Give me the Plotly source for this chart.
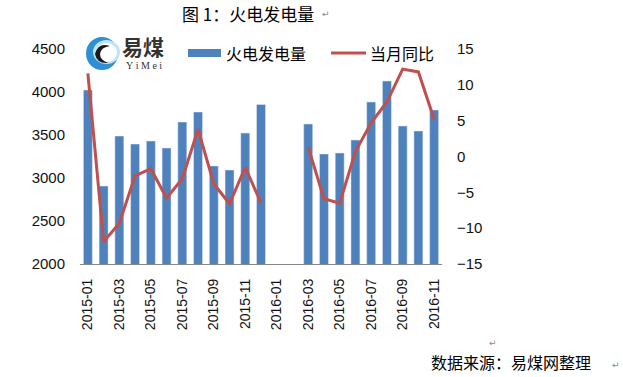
import plotly.graph_objects as go

months = ["2015-01", "2015-02", "2015-03", "2015-04", "2015-05", "2015-06",
          "2015-07", "2015-08", "2015-09", "2015-10", "2015-11", "2015-12",
          "2016-01", "2016-02", "2016-03", "2016-04", "2016-05", "2016-06",
          "2016-07", "2016-08", "2016-09", "2016-10", "2016-11"]
power = [4023, 2907, 3488, 3395, 3430, 3349, 3651, 3767, 3140, 3093, 3523, 3855,
         None, None, 3628, 3279, 3291, 3442, 3884, 4128, 3605, 3547, 3791]
yoy = [11.6, -11.9, -9.3, -2.7, -1.7, -5.8, -3.1, 3.8, -3.8, -6.6, -1.5, -6.5,
       None, None, 1.3, -5.9, -6.5, 0.7, 4.7, 7.6, 12.2, 11.8, 5.2]
tick_months = months[::2]
left_ticks = [2000, 2500, 3000, 3500, 4000, 4500]
right_ticks = [-15, -10, -5, 0, 5, 10, 15]

BAR = "#4F81BD"
LINE = "#C0504D"
NUM_FONT = "Liberation Sans, Arial, sans-serif"
CJK_FONT = "Noto Sans CJK SC, sans-serif"

fig = go.Figure()
fig.add_trace(go.Bar(x=months, y=power, name="火电发电量", marker_color=BAR,
                     showlegend=False))
fig.add_trace(go.Scatter(x=months, y=yoy, name="当月同比", mode="lines",
                         line=dict(color=LINE, width=3), yaxis="y2",
                         connectgaps=False, showlegend=False))

W, H = 623, 377
L, R, T, B = 80, 442, 49, 264

fig.update_layout(
    width=W, height=H,
    margin=dict(l=L, r=W - R, t=T, b=H - B),
    paper_bgcolor="white", plot_bgcolor="white",
    bargap=0.43,
    xaxis=dict(type="category", categoryorder="array", categoryarray=months,
               tickmode="array", tickvals=tick_months, ticktext=tick_months,
               tickangle=-90, showgrid=False, showline=True,
               linecolor="#888888", linewidth=1.3, ticks="", ticklabelstandoff=8,
               tickfont=dict(family=NUM_FONT, size=14, color="#111111"),
               range=[-0.5, 22.5], fixedrange=True),
    yaxis=dict(range=[2000, 4500], tickvals=left_ticks, showgrid=False,
               zeroline=False, showline=False, ticks="", ticklabelstandoff=14,
               tickfont=dict(family=NUM_FONT, size=15, color="#111111")),
    yaxis2=dict(range=[-15, 15], tickvals=right_ticks, overlaying="y",
                side="right", showgrid=False, zeroline=False, showline=False,
                ticks="", ticklabelstandoff=14,
                tickfont=dict(family=NUM_FONT, size=15, color="#111111")),
)

shapes = []
annotations = []

# Title
annotations.append(dict(text="图\u00a01：火电发电量", x=180, y=H - 13, xref="paper",
                        yref="paper", showarrow=False, xanchor="left",
                        yanchor="middle",
                        font=dict(family=CJK_FONT, size=17, color="#000000")))

# Legend (manual, Excel style)
shapes.append(dict(type="rect", xref="paper", yref="paper",
                   x0=188, x1=221, y0=H - 57, y1=H - 49,
                   fillcolor=BAR, line=dict(width=0)))
annotations.append(dict(text="火电发电量", x=224, y=H - 53, xref="paper",
                        yref="paper", showarrow=False, xanchor="left",
                        yanchor="middle",
                        font=dict(family=CJK_FONT, size=16, color="#000000")))
shapes.append(dict(type="line", xref="paper", yref="paper",
                   x0=331, x1=366, y0=H - 53, y1=H - 53,
                   line=dict(color=LINE, width=3)))
annotations.append(dict(text="当月同比", x=368, y=H - 53, xref="paper",
                        yref="paper", showarrow=False, xanchor="left",
                        yanchor="middle",
                        font=dict(family=CJK_FONT, size=16, color="#000000")))

# Logo
shapes.append(dict(type="circle", xref="paper", yref="paper",
                   x0=86, x1=118, y0=H - 70, y1=H - 37,
                   fillcolor="#2E8FD3", line=dict(width=0)))
shapes.append(dict(type="circle", xref="paper", yref="paper",
                   x0=93, x1=120, y0=H - 64, y1=H - 40,
                   fillcolor="#BFE3F7", line=dict(width=0)))
shapes.append(dict(type="circle", xref="paper", yref="paper",
                   x0=96, x1=117, y0=H - 62, y1=H - 43,
                   fillcolor="white", line=dict(width=0)))
shapes.append(dict(type="path", xref="paper", yref="paper",
                   path=f"M 110 {H-46} Q 98 {H-42} 95 {H-54} Q 97 {H-64} 108 {H-63} "
                        f"Q 100 {H-60} 100 {H-54} Q 101 {H-47} 110 {H-46} Z",
                   fillcolor="#1a1a1a", line=dict(width=0)))
annotations.append(dict(text="<b>易煤</b>", x=120, y=H - 46, xref="paper",
                        yref="paper", showarrow=False, xanchor="left",
                        yanchor="middle",
                        font=dict(family=CJK_FONT, size=21, color="#333333")))
annotations.append(dict(text="Y\u00a0i\u00a0M\u00a0e\u00a0i", x=124, y=H - 65,
                        xref="paper", yref="paper", showarrow=False,
                        xanchor="left", yanchor="middle",
                        font=dict(family="Liberation Serif, serif", size=10,
                                  color="#333333")))

# Footer
annotations.append(dict(text="数据来源：易煤网整理", x=429, y=H - 362,
                        xref="paper", yref="paper", showarrow=False,
                        xanchor="left", yanchor="middle",
                        font=dict(family=CJK_FONT, size=16, color="#000000")))

# Word paragraph marks
for (px, py) in [(320, 14), (487, 343), (610, 365)]:
    annotations.append(dict(text="↵", x=px, y=H - py, xref="paper",
                            yref="paper", showarrow=False, xanchor="left",
                            yanchor="middle",
                            font=dict(family="DejaVu Sans", size=9,
                                      color="#888888")))

# convert pixel-based paper coords to fractions of the plot area
pw, ph = R - L, B - T
for s in shapes:
    if s["type"] == "path":
        res = []
        pair = []
        for t in s["path"].split():
            try:
                v = float(t)
                pair.append(v)
                if len(pair) == 2:
                    res.append(f"{(pair[0]-L)/pw:.5f},{(pair[1]-(H-B))/ph:.5f}")
                    pair = []
            except ValueError:
                res.append(t)
        s["path"] = " ".join(res)
    else:
        s["x0"] = (s["x0"] - L) / pw
        s["x1"] = (s["x1"] - L) / pw
        s["y0"] = (s["y0"] - (H - B)) / ph
        s["y1"] = (s["y1"] - (H - B)) / ph
for a in annotations:
    a["x"] = (a["x"] - L) / pw
    a["y"] = (a["y"] - (H - B)) / ph

fig.update_layout(shapes=shapes, annotations=annotations)
fig.write_html("out.html", config={"displayModeBar": False},
               post_script="document.body.style.margin='0px';"
                           "document.body.style.overflow='hidden';")
